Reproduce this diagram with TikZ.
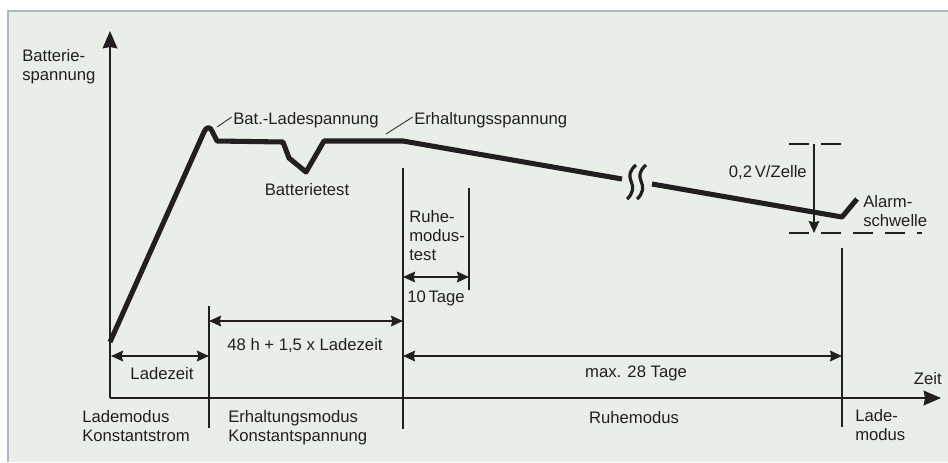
\documentclass[tikz,border=0pt]{standalone}
\usepackage{fontspec}
\setmainfont{Liberation Sans}
\usetikzlibrary{arrows.meta}
\definecolor{bgpanel}{RGB}{233,238,230}
\definecolor{framegrey}{RGB}{170,183,196}
\definecolor{ink}{RGB}{35,31,32}

\begin{document}
\begin{tikzpicture}[x=0.75pt,y=-0.75pt,
  every node/.style={font=\fontsize{12.5}{14}\selectfont,text=ink,inner sep=0pt},
  thinline/.style={line width=1.3pt,draw=ink},
  axisline/.style={line width=1.6pt,draw=ink,-{Stealth[length=13pt,width=11pt,inset=1pt]}},
  dimline/.style={line width=1.3pt,draw=ink,{Stealth[length=9pt,width=8pt,inset=1pt]}-{Stealth[length=9pt,width=8pt,inset=1pt]}},
  dimarrow/.style={line width=1.3pt,draw=ink,-{Stealth[length=9pt,width=8pt,inset=1pt]}},
  curve/.style={line width=3.8pt,draw=ink,line join=round},
  levelline/.style={line width=1.5pt,draw=ink,dash pattern=on 15pt off 9pt},
  leader/.style={line width=0.6pt,draw=ink}]

  \useasboundingbox (0,0) rectangle (948,462);
  \fill[bgpanel] (8,11) rectangle (948,462);
  \draw[framegrey,line width=1.5pt] (8,462) -- (8,11) -- (948,11);

  \coordinate (O) at (110,398); \coordinate (Ytop) at (110,31); \coordinate (Xend) at (941,398);
  \draw[axisline] (O) -- (Ytop);
  \draw[axisline] (O) -- (Xend);

  \coordinate (L1a) at (209,306); \coordinate (L1b) at (209,428);
  \coordinate (L2a) at (403,168); \coordinate (L2b) at (403,429);
  \coordinate (L3a) at (469,188); \coordinate (L3b) at (469,290);
  \coordinate (L4a) at (842,248); \coordinate (L4b) at (842,427);
  \draw[thinline] (L1a) -- (L1b) (L2a) -- (L2b) (L3a) -- (L3b) (L4a) -- (L4b);

  \coordinate (D1a) at (111,356); \coordinate (D1b) at (209,356);
  \coordinate (D2a) at (209,321); \coordinate (D2b) at (403,321);
  \coordinate (D3a) at (403,356); \coordinate (D3b) at (842,356);
  \coordinate (D4a) at (403,277); \coordinate (D4b) at (469,277);
  \draw[dimline] (D1a) -- (D1b);
  \draw[dimline] (D2a) -- (D2b);
  \draw[dimline] (D3a) -- (D3b);
  \draw[dimline] (D4a) -- (D4b);

  \coordinate (T0) at (789,144); \coordinate (T1) at (842,144);
  \coordinate (S0) at (789,233); \coordinate (S1) at (922,233);
  \coordinate (V0) at (814,144); \coordinate (V1) at (814,233);
  \draw[levelline] (T0) -- (T1);
  \draw[levelline] (S0) -- (S1);
  \draw[dimarrow] (V0) -- (V1);

  \draw[curve] (110,342) -- (204,132) .. controls (206,127) and (210,126) .. (212,131) -- (217,141)
    -- (283,142) -- (289,158) -- (306,172) -- (324,141) -- (403,141) -- (622,179);
  \draw[curve] (652,184) -- (842,217) -- (857,199);
  \foreach \sx in {0,10}
    \draw[line width=2.4pt,ink] (636+\sx,165) .. controls (629+\sx,171) and (629+\sx,176) .. (631+\sx,181)
      .. controls (634+\sx,187) and (633+\sx,194) .. (627+\sx,199);

  \node[anchor=base west,align=left] (yname) at (22,80) {Batterie-\\spannung};
  \node[anchor=base east] (xname) at (942,384) {Zeit};
  \node[anchor=base west] (batlade) at (233,124) {Bat.-Ladespannung};
  \node[anchor=base west] (erhalt) at (414,124) {Erhaltungsspannung};
  \node[anchor=base] (battest) at (307,195) {Batterietest};
  \node[anchor=base west,align=left] (ruhetest) at (409,260) {Ruhe-\\modus-\\test};
  \node[anchor=base west] (zehn) at (407,302) {10\,Tage};
  \node[anchor=base east] (zelle) at (807,177) {0,2\,V/Zelle};
  \node[anchor=base west,align=left] (alarm) at (863,226) {Alarm-\\schwelle};
  \node[anchor=base] (erhzeit) at (305,350) {48 h + 1,5 x Ladezeit};
  \node[anchor=base] (ladezeit) at (162,379) {Ladezeit};
  \node[anchor=base] (maxtage) at (636,377) {max. 28 Tage};
  \node[anchor=base west,align=left] (lademod) at (82,441) {Lademodus\\Konstantstrom};
  \node[anchor=base west,align=left] (erhmod) at (228,441) {Erhaltungsmodus\\Konstantspannung};
  \node[anchor=base] (ruhemod) at (634,423) {Ruhemodus};
  \node[anchor=base west,align=left] (lademod2) at (855,440) {Lade-\\modus};

  \coordinate (P1) at (217,127); \coordinate (P2) at (386,134);
  \draw[leader] (P1) -- ([xshift=-1pt,yshift=2pt]batlade.west);
  \draw[leader] (P2) -- ([xshift=-1pt,yshift=2pt]erhalt.west);

\end{tikzpicture}
\end{document}
